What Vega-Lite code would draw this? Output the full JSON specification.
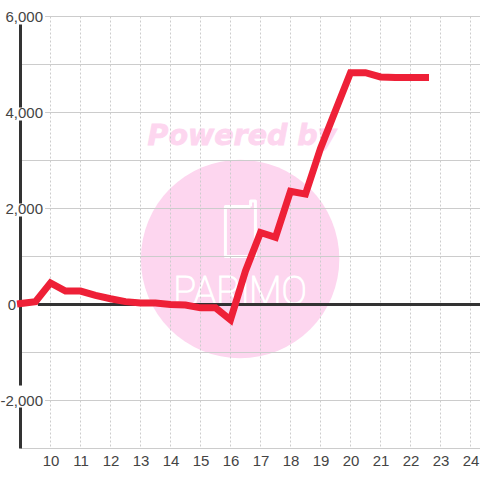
{
"$schema":"https://vega.github.io/schema/vega-lite/v6.json",
"width":459.5,"height":432,
"autosize":{"type":"none"},
"padding":{"left":20.5,"top":16.5,"right":0,"bottom":31.5},
"background":"white",
"view":{"stroke":null},
"datasets":{
"series":[{"h":9,"v":20},{"h":9.5,"v":60},{"h":10,"v":450},{"h":10.5,"v":280},{"h":11,"v":280},{"h":11.5,"v":190},{"h":12,"v":120},{"h":12.5,"v":60},{"h":13,"v":30},{"h":13.5,"v":30},{"h":14,"v":0},{"h":14.5,"v":-10},{"h":15,"v":-70},{"h":15.5,"v":-70},{"h":16,"v":-320},{"h":16.5,"v":700},{"h":17,"v":1500},{"h":17.5,"v":1400},{"h":18,"v":2360},{"h":18.5,"v":2300},{"h":19,"v":3250},{"h":19.5,"v":4040},{"h":20,"v":4830},{"h":20.5,"v":4830},{"h":21,"v":4740},{"h":21.5,"v":4730},{"h":22,"v":4730},{"h":22.5,"v":4730}],
"hgrid":[{"v":6000,"x0":9.82},{"v":5000,"x0":9},{"v":4000,"x0":9.82},{"v":3000,"x0":9},{"v":2000,"x0":9.82},{"v":1000,"x0":9},{"v":-1000,"x0":9},{"v":-2000,"x0":9.82},{"v":-3000,"x0":9}],
"vgrid":[{"h":10},{"h":11},{"h":12},{"h":13},{"h":14},{"h":15},{"h":16},{"h":17},{"h":18},{"h":19},{"h":20},{"h":21},{"h":22},{"h":23},{"h":24}],
"ylabels":[{"v":6000,"t":"6,000","h":9.75},{"v":4000,"t":"4,000","h":9.75},{"v":2000,"t":"2,000","h":9.75},{"v":0,"t":"0","h":8.85},{"v":-2000,"t":"-2,000","h":9.75}],
"yaxis":[{"h":9,"a":5833,"b":4104},{"h":9,"a":3833,"b":2104},{"h":9,"a":1833,"b":-1688},{"h":9,"a":-2146,"b":-3000}],
"phone":[{"o":1,"h":16.67,"v":2042},{"o":2,"h":15.83,"v":2042},{"o":3,"h":15.83,"v":1000},{"o":4,"h":16.83,"v":1000},{"o":5,"h":16.83,"v":2156},{"o":6,"h":16.67,"v":2156},{"o":7,"h":16.67,"v":2042}]
},
"encoding":{
"x":{"field":"h","type":"quantitative","scale":{"domain":[9,24.317],"nice":false,"zero":false},"axis":{"values":[10,11,12,13,14,15,16,17,18,19,20,21,22,23,24],"tickCount":15,"title":null,"grid":false,"domain":false,"ticks":false,"labelFont":"Liberation Sans","labelFontSize":15,"labelColor":"#444444","labelPadding":5,"labelOverlap":false,"labelFlush":false,"labelSeparation":0}},
"y":{"field":"v","type":"quantitative","scale":{"domain":[-3000,6000],"nice":false,"zero":false},"axis":null}
},
"layer":[
{"data":{"values":[{"h":16.32,"v":948}]},"mark":{"type":"point","shape":"circle","filled":true,"size":39400,"color":"#fdd6ef","opacity":1}},
{"data":{"values":[{"h":16.38,"v":3520,"t":"Powered by"}]},"mark":{"type":"text","font":"DejaVu Sans","fontWeight":"bold","fontStyle":"italic","fontSize":28.5,"color":"#fdd6ef","stroke":"#fdd6ef","strokeWidth":0.8,"align":"center","baseline":"middle"},"encoding":{"text":{"field":"t"}}},
{"data":{"name":"phone"},"mark":{"type":"line","color":"white","strokeWidth":3,"strokeJoin":"round"},"encoding":{"order":{"field":"o"}}},
{"data":{"values":[{"h":16.32,"v":250,"t":"PARiMO"}]},"mark":{"type":"text","font":"Roboto","fontWeight":100,"fontSize":38,"color":"white","stroke":"white","strokeWidth":1.2,"align":"center","baseline":"middle"},"encoding":{"text":{"field":"t"}}},
{"data":{"name":"hgrid"},"mark":{"type":"rule","color":"#cccccc","strokeWidth":1},"encoding":{"x":{"field":"x0","type":"quantitative"},"x2":{"datum":24.317}}},
{"data":{"name":"vgrid"},"mark":{"type":"rule","color":"#cccccc","strokeWidth":1,"strokeDash":[2,2]},"encoding":{"y":{"value":0},"y2":{"value":432}}},
{"data":{"values":[{"v":0,"x0":9.58}]},"mark":{"type":"rule","color":"#333333","strokeWidth":3},"encoding":{"x":{"field":"x0","type":"quantitative"},"x2":{"datum":24.317}}},
{"data":{"name":"yaxis"},"mark":{"type":"rule","color":"#333333","strokeWidth":3},"encoding":{"y":{"field":"a","type":"quantitative"},"y2":{"field":"b"}}},
{"data":{"name":"ylabels"},"mark":{"type":"text","font":"Liberation Sans","fontSize":15,"color":"#444444","align":"right","baseline":"middle"},"encoding":{"text":{"field":"t"}}},
{"data":{"name":"series"},"mark":{"type":"line","color":"#ee2037","strokeWidth":7,"strokeJoin":"miter","strokeCap":"square","clip":false}}
]
}
